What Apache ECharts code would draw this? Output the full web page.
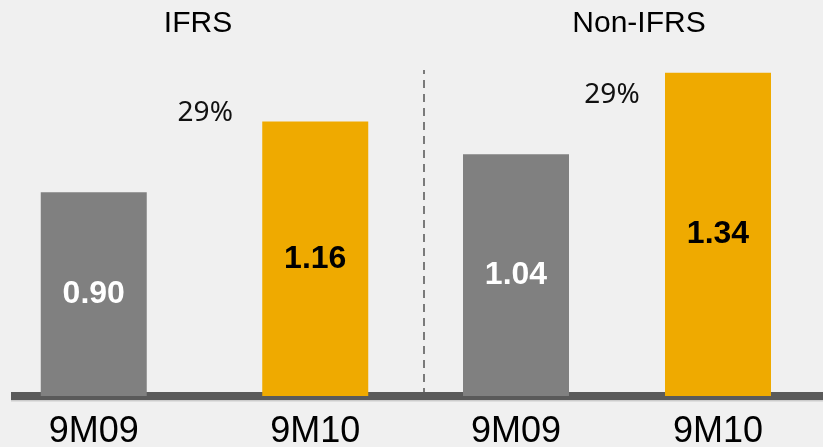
<!DOCTYPE html>
<html>
<head>
<meta charset="utf-8">
<script src="https://cdn.jsdelivr.net/npm/echarts@6/dist/echarts.min.js"></script>
<style>
  html, body { margin: 0; padding: 0; background: #f0f0f0; }
  #chart { width: 823px; height: 447px; }
</style>
</head>
<body>
<div id="chart"></div>
<script>
// Earnings per share, IFRS vs Non-IFRS, nine months 2009 vs 2010
const panelTitles = ['IFRS', 'Non-IFRS'];
const periods = ['9M09', '9M10'];
const ifrsValues = [0.90, 1.16];
const nonIfrsValues = [1.04, 1.34];
const growthLabels = ['29%', '29%'];

const GRAY = '#808080';
const GOLD = '#efaa00';
const FONT = '"Liberation Sans", Arial, sans-serif';

const chart = echarts.init(document.getElementById('chart'));

const plotTop = 70, plotBottom = 51;
const yRange = { min: 0.15, max: 1.35 };

function barData(values) {
  return values.map((v, i) => ({
    value: v,
    itemStyle: { color: i === 0 ? GRAY : GOLD },
    label: { color: i === 0 ? '#ffffff' : '#000000' }
  }));
}

function barSeries(values, gridIdx) {
  return {
    type: 'bar',
    xAxisIndex: gridIdx,
    yAxisIndex: gridIdx,
    barWidth: 106,
    data: barData(values),
    label: {
      show: true,
      position: 'inside',
      fontFamily: FONT,
      fontSize: 32,
      fontWeight: 'bold',
      textBorderWidth: 0,
      formatter: p => p.value.toFixed(2)
    },
    silent: true
  };
}

// growth note sitting beside the later-period bar
function growthSeries(values, gridIdx, text, offset) {
  return {
    type: 'scatter',
    xAxisIndex: gridIdx,
    yAxisIndex: gridIdx,
    symbolSize: 0,
    itemStyle: { color: 'transparent', opacity: 1 },
    data: [[periods[1], values[1]]],
    label: {
      show: true,
      position: 'inside',
      offset: offset,
      formatter: text,
      fontFamily: '"Noto Sans", "Open Sans", sans-serif',
      fontWeight: 'normal',
      fontSize: 28,
      color: '#111111',
      opacity: 1,
      textBorderWidth: 0
    },
    silent: true
  };
}

function panelXAxis(gridIdx) {
  return {
    type: 'category',
    gridIndex: gridIdx,
    data: periods,
    axisLine: { show: false },
    axisTick: { show: false },
    axisLabel: {
      margin: 18,
      fontFamily: FONT,
      fontSize: 36,
      color: '#000000'
    }
  };
}

function panelYAxis(gridIdx) {
  return {
    type: 'value',
    gridIndex: gridIdx,
    min: yRange.min,
    max: yRange.max,
    show: false
  };
}

const option = {
  backgroundColor: '#f0f0f0',
  animation: false,
  title: [
    { text: panelTitles[0], left: 193, top: 4, textAlign: 'center',
      textStyle: { fontFamily: FONT, fontSize: 30, fontWeight: 'normal', color: '#000' } },
    { text: panelTitles[1], left: 634, top: 4, textAlign: 'center',
      textStyle: { fontFamily: FONT, fontSize: 30, fontWeight: 'normal', color: '#000' } }
  ],
  grid: [
    { left: -17, width: 443, top: plotTop, bottom: plotBottom, outerBoundsMode: 'none' },
    { left: 415, width: 404, top: plotTop, bottom: plotBottom, outerBoundsMode: 'none' },
    // baseline under both panels
    { left: 11, right: 0, top: plotTop, bottom: plotBottom, outerBoundsMode: 'none' },
    // dashed separator between panels
    { left: 424, right: 0, top: plotTop, bottom: plotBottom, outerBoundsMode: 'none' }
  ],
  xAxis: [
    panelXAxis(0),
    panelXAxis(1),
    {
      type: 'category', gridIndex: 2, data: [''],
      offset: 4,
      axisLine: { show: true, lineStyle: { color: '#5a5a5a', width: 8, cap: 'butt',
        shadowColor: '#cccccc', shadowOffsetY: 1.5, shadowBlur: 0 } },
      axisTick: { show: false },
      axisLabel: { show: false }
    },
    { type: 'category', gridIndex: 3, data: [''], show: false }
  ],
  yAxis: [
    panelYAxis(0),
    panelYAxis(1),
    { type: 'value', gridIndex: 2, show: false },
    {
      type: 'value', gridIndex: 3, min: 0, max: 1,
      axisLine: { show: true, onZero: false,
        lineStyle: { color: '#7a7a7a', width: 2, type: [8, 6], cap: 'butt' } },
      axisTick: { show: false },
      axisLabel: { show: false },
      splitLine: { show: false }
    }
  ],
  series: [
    barSeries(ifrsValues, 0),
    barSeries(nonIfrsValues, 1),
    growthSeries(ifrsValues, 0, growthLabels[0], [-110, -9]),
    growthSeries(nonIfrsValues, 1, growthLabels[1], [-106, 22])
  ]
};

chart.setOption(option);
</script>
</body>
</html>
